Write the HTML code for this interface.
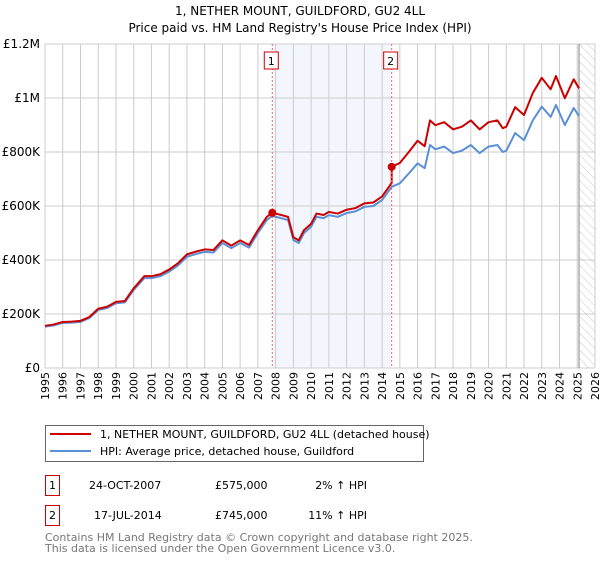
<!DOCTYPE html>
<html><head><meta charset="utf-8"><style>
body{margin:0;background:#fff;font-family:"DejaVu Sans","Liberation Sans",sans-serif;}
svg text{font-family:"DejaVu Sans","Liberation Sans",sans-serif;}
</style></head><body>
<svg id="chart" width="600" height="560" viewBox="0 0 600 560" xmlns="http://www.w3.org/2000/svg">
<defs><pattern id="hatch" width="6" height="6" patternUnits="userSpaceOnUse" patternTransform="rotate(-45)"><line x1="0" y1="0" x2="0" y2="6" stroke="#bbb" stroke-width="0.8"/></pattern></defs>
<text x="300" y="15" text-anchor="middle" font-size="12">1, NETHER MOUNT, GUILDFORD, GU2 4LL</text>
<text x="300" y="32" text-anchor="middle" font-size="12">Price paid vs. HM Land Registry's House Price Index (HPI)</text>
<g id="grid"></g><g id="marks"></g><g id="axes"></g>
<g>
<rect x="45.5" y="425.5" width="378" height="36" fill="#fff" stroke="#666"/>
<line x1="50" y1="434" x2="91" y2="434" stroke="#cc0000" stroke-width="2"/>
<text x="100" y="438" font-size="11">1, NETHER MOUNT, GUILDFORD, GU2 4LL (detached house)</text>
<line x1="50" y1="451" x2="91" y2="451" stroke="#5b8fd6" stroke-width="2"/>
<text x="100" y="455" font-size="11">HPI: Average price, detached house, Guildford</text>
</g>
<g font-size="11">
<rect x="45.5" y="475.5" width="14" height="20" fill="#fff" stroke="#cc0000"/><text x="52.5" y="489" text-anchor="middle">1</text>
<text x="89" y="489">24-OCT-2007</text><text x="215" y="489">£575,000</text><text x="367" y="489" text-anchor="end">2% ↑ HPI</text>
<rect x="45.5" y="505.5" width="14" height="20" fill="#fff" stroke="#cc0000"/><text x="52.5" y="519" text-anchor="middle">2</text>
<text x="94" y="519">17-JUL-2014</text><text x="215" y="519">£745,000</text><text x="367" y="519" text-anchor="end">11% ↑ HPI</text>
</g>
<g font-size="11" fill="#777">
<text x="45" y="541">Contains HM Land Registry data © Crown copyright and database right 2025.</text>
<text x="45" y="552">This data is licensed under the Open Government Licence v3.0.</text>
</g>
</svg>
<script>
const yearTicks=[1995,1996,1997,1998,1999,2000,2001,2002,2003,2004,2005,2006,2007,2008,2009,2010,2011,2012,2013,2014,2015,2016,2017,2018,2019,2020,2021,2022,2023,2024,2025,2026];
const priceTicks=[0,200000,400000,600000,800000,1000000,1200000];
const priceTickLabels=["£0","£200K","£400K","£600K","£800K","£1M","£1.2M"];
const hpiDates=[1995,1995.5,1996,1996.5,1997,1997.5,1998,1998.5,1999,1999.5,2000,2000.6,2001,2001.5,2002,2002.5,2003,2003.5,2004,2004.5,2005,2005.5,2006,2006.5,2007,2007.5,2007.81,2008.3,2008.7,2009,2009.3,2009.6,2010,2010.3,2010.7,2011,2011.5,2012,2012.5,2013,2013.5,2014,2014.54,2015,2015.5,2016,2016.4,2016.7,2017,2017.5,2018,2018.5,2019,2019.5,2020,2020.5,2020.8,2021,2021.5,2022,2022.5,2023,2023.5,2023.8,2024.3,2024.8,2025.1];
const hpiValues=[153000,158000,167000,168000,171000,185000,215000,222000,240000,243000,289000,333000,333000,340000,357000,380000,412000,422000,430000,428000,463000,444000,463000,446000,500000,548000,563000,555000,548000,474000,463000,500000,523000,560000,555000,566000,560000,574000,580000,597000,600000,622000,671000,684000,720000,758000,740000,826000,810000,820000,796000,805000,826000,796000,820000,826000,800000,805000,870000,844000,918000,968000,930000,974000,900000,963000,933000];
const saleDates=[2007.81,2014.54];
const salePrices=[575000,745000];
const X0=45,X1=595,Y0=368,Y1=44;
const xs=t=>X0+(t-1995)/(2026-1995)*(X1-X0);
const ys=v=>Y0-v/1200000*(Y0-Y1);
const NS="http://www.w3.org/2000/svg";
function mk(tag,attrs,parent){const e=document.createElementNS(NS,tag);for(const k in attrs)e.setAttribute(k,attrs[k]);parent.appendChild(e);return e;}
const grid=document.getElementById('grid'),marks=document.getElementById('marks'),axes=document.getElementById('axes');
function hpiAt(t){for(let i=0;i<hpiDates.length-1;i++){if(t<=hpiDates[i+1]){const f=(t-hpiDates[i])/(hpiDates[i+1]-hpiDates[i]);return hpiValues[i]+f*(hpiValues[i+1]-hpiValues[i]);}}return hpiValues[hpiValues.length-1];}
const band=mk('rect',{x:xs(saleDates[0]),y:Y1,width:xs(saleDates[1])-xs(saleDates[0]),height:Y0-Y1,fill:'#eef3fc',opacity:0.7},grid);


const lastT=hpiDates[hpiDates.length-1];
const hat=mk('rect',{x:xs(lastT),y:Y1,width:X1-xs(lastT),height:Y0-Y1,fill:'url(#hatch)'},grid);


yearTicks.forEach(y=>{const l=mk('line',{x1:xs(y),x2:xs(y),y1:Y1,y2:Y0,stroke:'#ccc','stroke-width':1},grid);


const t=mk('text',{x:0,y:0,'font-size':11,'text-anchor':'end',transform:`translate(${xs(y)+4},372) rotate(-90)`},axes);t.textContent=y;

});
priceTicks.forEach((v,i)=>{const l=mk('line',{x1:X0,x2:X1,y1:ys(v),y2:ys(v),stroke:'#ccc','stroke-width':1},grid);


const t=mk('text',{x:40,y:ys(v)+4,'font-size':12,'text-anchor':'end'},axes);t.textContent=priceTickLabels[i];

});
const vl=mk('line',{x1:xs(lastT),x2:xs(lastT),y1:Y1,y2:Y0,stroke:'#999','stroke-width':1.2},grid);


const hp=mk('polyline',{points:hpiDates.map((t,i)=>xs(t)+','+ys(hpiValues[i])).join(' '),fill:'none',stroke:'#5b8fd6','stroke-width':2,'stroke-linejoin':'round'},marks);


const ratio0=salePrices[0]/hpiAt(saleDates[0]),ratio1=salePrices[1]/hpiAt(saleDates[1]);
let pts=[];
hpiDates.forEach((t,i)=>{if(t<=saleDates[1]){pts.push([t,hpiValues[i]*ratio0]);}});
pts.push([saleDates[1],hpiAt(saleDates[1])*ratio0]);
pts.push([saleDates[1],salePrices[1]]);
hpiDates.forEach((t,i)=>{if(t>saleDates[1])pts.push([t,hpiValues[i]*ratio1]);});
const pl=mk('polyline',{points:pts.map(p=>xs(p[0])+','+ys(p[1])).join(' '),fill:'none',stroke:'#cc0000','stroke-width':2,'stroke-linejoin':'round'},marks);


saleDates.forEach((t,i)=>{
const d=mk('line',{x1:xs(t),x2:xs(t),y1:Y1,y2:Y0,stroke:'#e66','stroke-width':1,'stroke-dasharray':'2,2'},marks);


const c=mk('circle',{cx:xs(t),cy:ys(salePrices[i]),r:4,fill:'#cc0000'},marks);


const b=mk('rect',{x:xs(t)-8,y:52,width:14,height:17,fill:'#fff',stroke:'#cc0000'},marks);


const tx=mk('text',{x:xs(t)-1,y:65,'font-size':11,'text-anchor':'middle'},marks);tx.textContent=String(i+1);


});
</script>
</body></html>
